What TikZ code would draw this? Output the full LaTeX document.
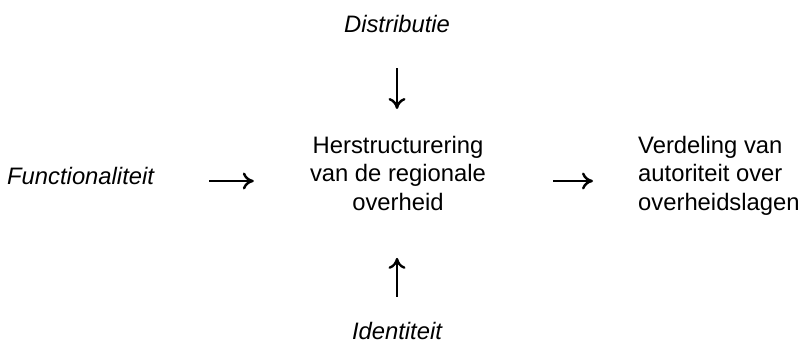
\documentclass[tikz,border=0pt]{standalone}
\usepackage{fontspec}
\setmainfont{Liberation Sans}
\usetikzlibrary{arrows.meta}
\begin{document}
\begin{tikzpicture}[x=1pt,y=-1pt,
  txt/.style={inner sep=0pt,font=\fontsize{23.8}{28.5}\selectfont},
  itxt/.style={txt,font=\fontsize{23.8}{28.5}\selectfont\itshape},
  arr/.style={line width=2pt,-{Computer Modern Rightarrow[length=11pt,width=17pt,line width=2.4pt]}}]
\useasboundingbox (0,0) rectangle (805,344);
\node[itxt,anchor=base] (dist) at (397,32.5) {Distributie};
\node[itxt,anchor=base] (ident) at (397,339) {Identiteit};
\node[itxt,anchor=base west] (func) at (7,185) {Functionaliteit};
\node[txt,anchor=north,align=center] (center) at (398,136) {Herstructurering\\van de regionale\\overheid};
\node[txt,anchor=north west,align=left] (right) at (638,136) {Verdeling van\\autoriteit over\\overheidslagen};
\draw[arr,shorten <=35.5pt,shorten >=27pt] (dist.south) -- (dist.south |- center.north);
\draw[arr,shorten <=24.6pt,shorten >=47pt] (ident.north) -- (ident.north |- center.south);
\draw[arr,shorten <=55pt,shorten >=56pt] ([yshift=4pt]func.base east) -- ([yshift=4pt]func.base east -| center.west);
\draw[arr,shorten <=67pt,shorten >=45pt] ([yshift=4pt]func.base east -| center.east) -- ([yshift=4pt]func.base east -| right.west);
\end{tikzpicture}
\end{document}
